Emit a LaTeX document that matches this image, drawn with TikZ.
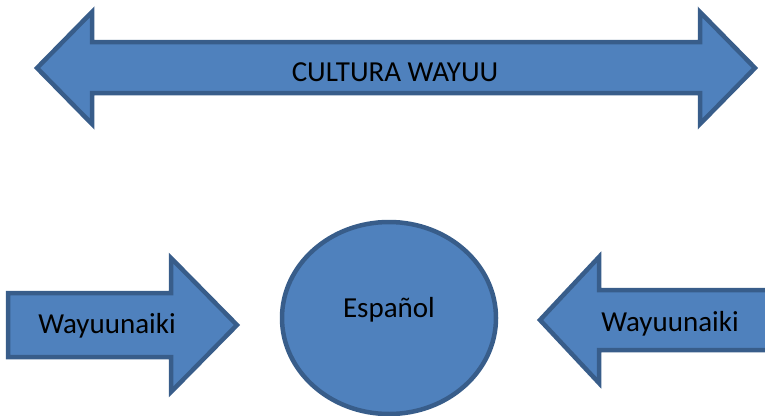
\documentclass[tikz,border=0pt]{standalone}
\usepackage{fontspec}
\setmainfont{Carlito}
\usetikzlibrary{shapes.geometric}
\definecolor{arrowfill}{HTML}{4F81BD}
\definecolor{arrowline}{HTML}{385D8A}

\begin{document}
\begin{tikzpicture}[x=1pt,y=-1pt,line join=miter]
    \tikzstyle{block}=[draw=arrowline,fill=arrowfill,line width=4.5pt]
    \tikzstyle{wordtext}=[font=\fontsize{29}{34}\selectfont,inner sep=0pt,anchor=base]
    \useasboundingbox (0,0) rectangle (765,415);

    % top double arrow
    \draw[block] (37,68) -- (92,12) -- (92,42) -- (700,42) -- (700,12) -- (755,68)
        -- (700,124) -- (700,93) -- (92,93) -- (92,124) -- cycle;
    \node[wordtext] (cultura) at (395,81) {CULTURA WAYUU};

    % the two side arrows
    \draw[block] (8,293) -- (171,293) -- (171,258) -- (237,325) -- (171,392)
        -- (171,357) -- (8,357) -- cycle;
    \draw[block] (772,290) -- (599,290) -- (599,257) -- (540,320) -- (599,383)
        -- (599,350) -- (772,350) -- cycle;
    \foreach \side/\x/\y in {left/107/333, right/670/331}
        \node[wordtext] (W-\side) at (\x,\y) {Wayuunaiki};

    % circle
    \node[block,ellipse,minimum width=214pt,minimum height=192pt] (espanol) at (389,318) {};
    \node[wordtext] (espanol-text) at (389,317) {Español};
\end{tikzpicture}
\end{document}
